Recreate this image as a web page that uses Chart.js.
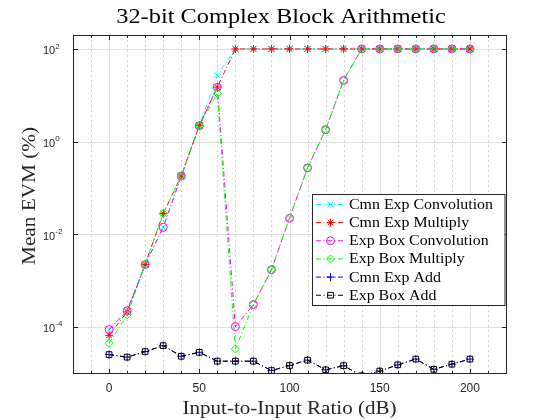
<!DOCTYPE html>
<html><head><meta charset="utf-8">
<script src="https://cdn.jsdelivr.net/npm/chart.js@4/dist/chart.umd.min.js"></script>
<style>html,body{margin:0;padding:0;background:#fff}#wrap{width:560px;height:420px;position:relative}</style>
</head><body><div id="wrap"><canvas id="c"></canvas></div>
<script>
// ---- data ----
const ratios = [0,10,20,30,40,50,60,70,80,90,100,110,120,130,140,150,160,170,180,190,200];
const cmnExpConvolution = [8.7e-5,2.2e-4,2.2e-3,1.4e-2,0.18,2.2,27,100,100,100,100,100,100,100,100,100,100,100,100,100,100];
const cmnExpMultiply    = [6.5e-5,2.1e-4,2.2e-3,2.8e-2,0.18,2.2,15,100,100,100,100,100,100,100,100,100,100,100,100,100,100];
const expBoxConvolution = [8.7e-5,2.2e-4,2.2e-3,1.4e-2,0.18,2.2,15,1.0e-4,3.0e-4,1.7e-3,2.2e-2,0.27,1.8,21,100,100,100,100,100,100,100];
const expBoxMultiply    = [4.4e-5,1.8e-4,2.2e-3,2.8e-2,0.18,2.2,11,3.3e-5,3.0e-4,1.7e-3,2.2e-2,0.27,1.8,21,100,100,100,100,100,100,100];
const cmnExpAdd = [2.5e-5,2.2e-5,2.9e-5,3.9e-5,2.3e-5,2.8e-5,1.8e-5,1.8e-5,1.8e-5,1.13e-5,1.45e-5,1.9e-5,1.17e-5,1.44e-5,8.7e-6,1.1e-5,1.5e-5,2.0e-5,1.2e-5,1.55e-5,2.0e-5];
const expBoxAdd = [2.5e-5,2.2e-5,2.9e-5,3.9e-5,2.3e-5,2.8e-5,1.8e-5,1.8e-5,1.8e-5,1.13e-5,1.45e-5,1.9e-5,1.17e-5,1.44e-5,8.7e-6,1.1e-5,1.5e-5,2.0e-5,1.2e-5,1.55e-5,2.0e-5];
const seriesNames = ['Cmn Exp Convolution','Cmn Exp Multiply','Exp Box Convolution','Exp Box Multiply','Cmn Exp Add','Exp Box Add'];
const xTickLabels = [0,50,100,150,200];
const xMinorTicks = [-10,10,20,30,40,60,70,80,90,110,120,130,140,160,170,180,190,210];
const yTickExponents = [-4,-2,0,2];
const titleText = '32-bit Complex Block Arithmetic';
const xLabelText = 'Input-to-Input Ratio (dB)';
const yLabelText = 'Mean EVM (%)';

const DASH = [5,2.5,1,2.5];
const styles = [
  {color:'#00ffff', point:'crossRot'},
  {color:'#ff0000', point:'star'},
  {color:'#ff00ff', point:'circle'},
  {color:'#00ff00', point:'rectRot'},
  {color:'#0000ff', point:'cross'},
  {color:'#000000', point:'rect'}
];
const values = [cmnExpConvolution,cmnExpMultiply,expBoxConvolution,expBoxMultiply,cmnExpAdd,expBoxAdd];

const datasets = values.map((vals,i)=>({
  label: seriesNames[i],
  data: ratios.map((r,j)=>({x:r,y:vals[j]})),
  borderColor: styles[i].color,
  backgroundColor: 'rgba(0,0,0,0)',
  pointBorderColor: styles[i].color,
  pointBackgroundColor: 'rgba(0,0,0,0)',
  pointStyle: styles[i].point,
  pointRadius: 4,
  pointBorderWidth: 1,
  borderWidth: 1,
  borderDash: DASH,
  tension: 0,
  order: 6-i
}));

const AXC = '#262626';
const SERIF = '"Liberation Serif", "Times New Roman", serif';
function fillScaled(ctx, text, x, y, sx){
  ctx.save();
  ctx.translate(x, y);
  ctx.scale(sx, 1);
  ctx.fillText(text, 0, 0);
  ctx.restore();
}
const matlab = {
  id:'matlab',
  beforeDatasetsDraw(chart){
    const {ctx, chartArea:a, scales:{x,y}} = chart;
    ctx.save();
    ctx.lineWidth = 1;
    ctx.strokeStyle = '#d2d2d2';
    ctx.setLineDash([2,3]);
    xMinorTicks.forEach(v=>{
      const px = Math.round(x.getPixelForValue(v))+0.5;
      ctx.beginPath(); ctx.moveTo(px,a.top); ctx.lineTo(px,a.bottom); ctx.stroke();
    });
    ctx.setLineDash([]);
    ctx.strokeStyle = '#dfdfdf';
    xTickLabels.forEach(v=>{
      const px = Math.round(x.getPixelForValue(v))+0.5;
      ctx.beginPath(); ctx.moveTo(px,a.top); ctx.lineTo(px,a.bottom); ctx.stroke();
    });
    yTickExponents.forEach(e=>{
      const py = Math.round(y.getPixelForValue(Math.pow(10,e)))+0.5;
      ctx.beginPath(); ctx.moveTo(a.left,py); ctx.lineTo(a.right,py); ctx.stroke();
    });
    ctx.restore();
  },
  afterDatasetsDraw(chart){
    const {ctx, chartArea:a, scales:{x,y}} = chart;
    ctx.save();
    ctx.strokeStyle = AXC; ctx.lineWidth = 1;
    const L = Math.round(a.left)+0.5, R = Math.round(a.right)+0.5, T = Math.round(a.top)+0.5, B = Math.round(a.bottom)+0.5;
    ctx.strokeRect(L,T,R-L,B-T);
    ctx.beginPath();
    xTickLabels.forEach(v=>{
      const px = Math.round(x.getPixelForValue(v))+0.5;
      ctx.moveTo(px,B); ctx.lineTo(px,B-4.5);
      ctx.moveTo(px,T); ctx.lineTo(px,T+4.5);
    });
    xMinorTicks.forEach(v=>{
      const px = Math.round(x.getPixelForValue(v))+0.5;
      ctx.moveTo(px,B); ctx.lineTo(px,B-2.5);
      ctx.moveTo(px,T); ctx.lineTo(px,T+2.5);
    });
    yTickExponents.forEach(e=>{
      const py = Math.round(y.getPixelForValue(Math.pow(10,e)))+0.5;
      ctx.moveTo(L,py); ctx.lineTo(L+4.5,py);
      ctx.moveTo(R,py); ctx.lineTo(R-4.5,py);
    });
    ctx.stroke();

    // tick labels
    ctx.fillStyle = AXC;
    ctx.font = '12px "Liberation Sans", Arial, sans-serif';
    ctx.textAlign = 'center'; ctx.textBaseline = 'middle';
    xTickLabels.forEach(v=>{
      ctx.fillText(String(v), x.getPixelForValue(v), 389);
    });
    yTickExponents.forEach(e=>{
      const py = y.getPixelForValue(Math.pow(10,e));
      ctx.textAlign = 'left';
      ctx.font = '11px "Liberation Sans", Arial, sans-serif';
      ctx.fillText('10', 43, py+2.5);
      const w = ctx.measureText('10').width;
      ctx.font = '8px "Liberation Sans", Arial, sans-serif';
      ctx.fillText(String(e), 43+w, py-2.5);
    });

    // titles
    ctx.fillStyle = '#000';
    ctx.textAlign = 'center'; ctx.textBaseline = 'alphabetic';
    ctx.font = '21px ' + SERIF;
    fillScaled(ctx, titleText, 281, 23, 1.16);
    ctx.fillStyle = AXC;
    ctx.font = '18px ' + SERIF;
    fillScaled(ctx, xLabelText, (a.left+a.right)/2, 414, 1.17);
    ctx.save();
    ctx.translate(35, 196); ctx.rotate(-Math.PI/2);
    ctx.scale(1.18, 1);
    ctx.fillText(yLabelText, 0, 0);
    ctx.restore();

    // legend
    const lx0 = 312.5, ly0 = 194.5, lx1 = R-1.5, ly1 = 305.5;
    ctx.fillStyle = '#fff';
    ctx.fillRect(lx0, ly0, lx1-lx0, ly1-ly0);
    ctx.strokeStyle = AXC; ctx.lineWidth = 1;
    ctx.strokeRect(lx0, ly0, lx1-lx0, ly1-ly0);
    ctx.font = '15px ' + SERIF;
    ctx.textAlign = 'left'; ctx.textBaseline = 'middle';
    seriesNames.forEach((name,i)=>{
      const cy = 204.5 + i*18.15;
      ctx.strokeStyle = styles[i].color;
      ctx.lineWidth = 1;
      ctx.setLineDash(DASH);
      ctx.beginPath(); ctx.moveTo(316, cy); ctx.lineTo(345, cy); ctx.stroke();
      ctx.setLineDash([]);
      ctx.fillStyle = 'rgba(0,0,0,0)';
      Chart.helpers.drawPoint(ctx, {pointStyle: styles[i].point, radius: 4, borderWidth: 1, rotation: 0}, 330.5, cy);
      ctx.fillStyle = '#000';
      fillScaled(ctx, name, 349, cy+0.5, 1.06);
    });
    ctx.restore();
  }
};

new Chart(document.getElementById('c'), {
  type: 'line',
  data: { datasets },
  options: {
    responsive: true,
    maintainAspectRatio: false,
    animation: false,
    devicePixelRatio: 1,
    layout: { padding: {left: 73, right: 54, top: 35, bottom: 47} },
    plugins: { legend: {display:false}, title:{display:false}, tooltip:{enabled:false} },
    scales: {
      x: { type:'linear', min:-20, max:220,
           grid:{display:false, drawTicks:false}, border:{display:false},
           ticks:{display:false} },
      y: { type:'logarithmic', min:1e-5, max:200,
           grid:{display:false, drawTicks:false}, border:{display:false},
           ticks:{display:false} }
    }
  },
  plugins: [matlab]
});
</script>
</body></html>
